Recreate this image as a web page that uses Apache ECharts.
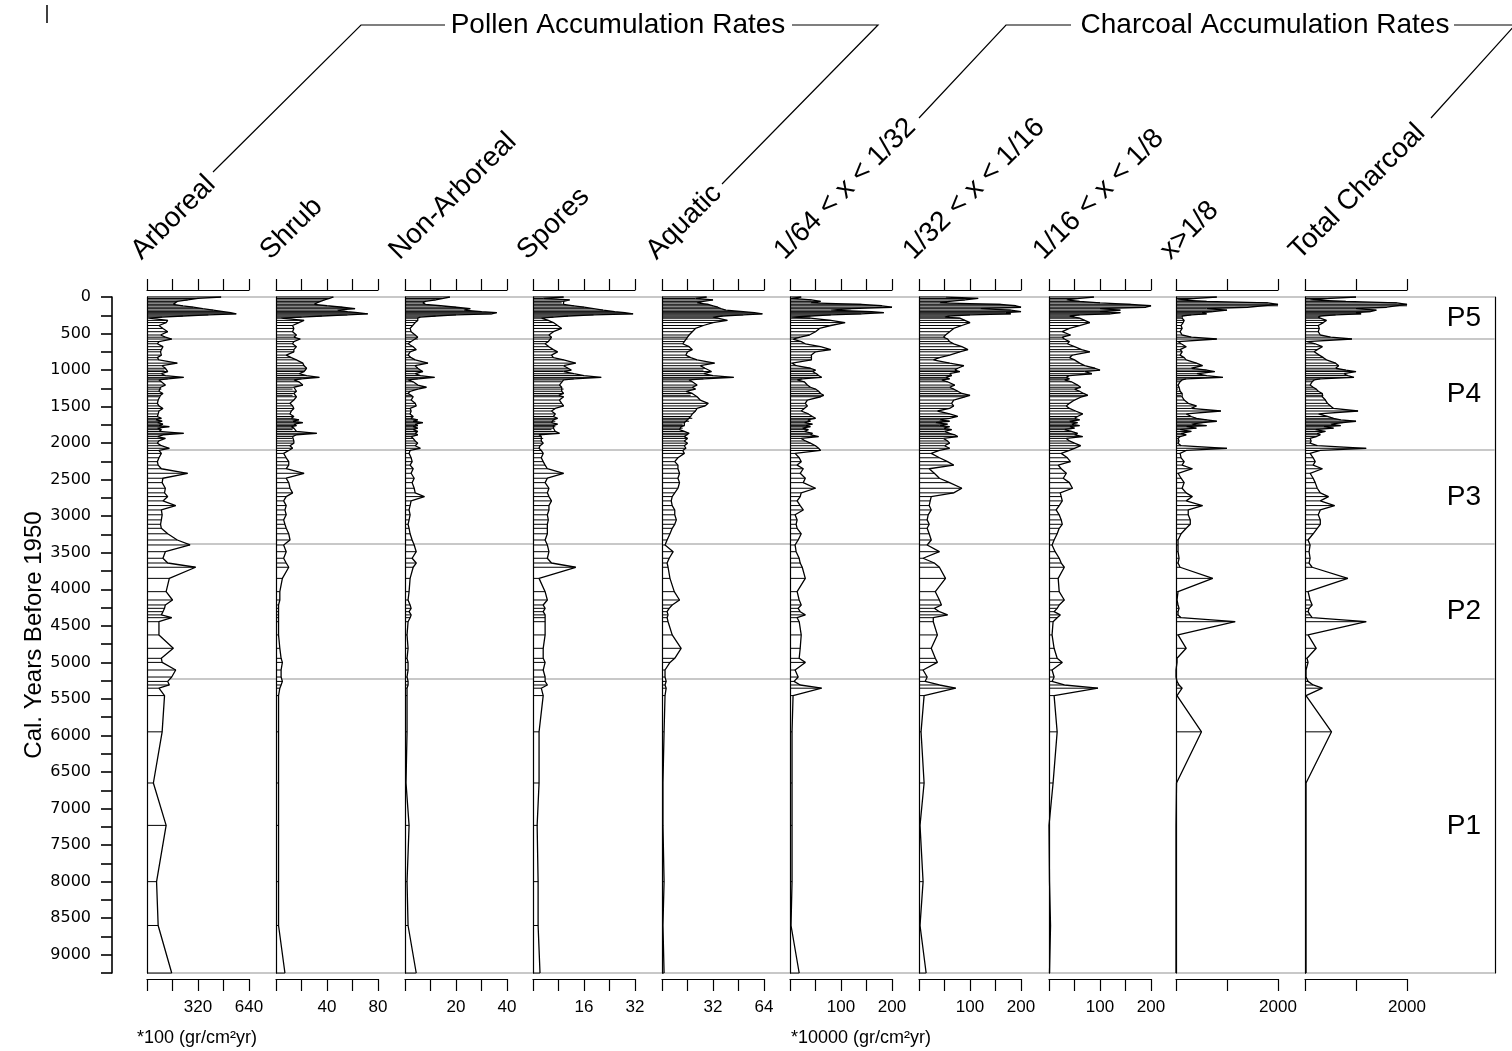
<!DOCTYPE html>
<html><head><meta charset="utf-8">
<script src="https://cdn.jsdelivr.net/npm/echarts@6/dist/echarts.min.js"></script>
<style>html,body{margin:0;padding:0;background:#fff}#c{width:1512px;height:1051px}</style>
</head><body><div id="c"></div><script>
// ---- data ----
const AGES = [
 0,20,40,60,80,100,120,140,160,180,200,215,230,245,260,275,290,
 320,350,390,430,475,520,550,575,
 610,640,680,720,750,795,830,860,905,940,975,
 1000,1020,1050,1075,1100,1120,1135,1160,1205,1235,1260,1290,1320,1345,1365,1410,1455,1490,
 1525,1560,1600,1635,1660,1680,1700,1720,1740,1760,1775,1795,1815,1840,1865,1885,1910,1935,1970,2000,2035,2070,2100,
 2140,2200,2253,2300,2350,2412,2480,2540,2617,2680,2731,2790,2854,2914,2980,3050,3110,3165,3240,3325,3393,
 3485,3575,3640,3698,3850,4032,4146,4214,4260,4306,4350,4388,4443,4624,4807,4944,5000,5104,5200,5260,5309,5353,
 5454,5950,6650,7230,8000,8600,9250];
const ARBOREAL = [
 465,320,255,190,180,165,225,290,350,415,480,525,560,385,225,95,12,
 130,120,75,100,130,85,115,155,
 75,65,100,90,85,90,65,75,190,95,115,
 110,130,90,115,230,130,75,90,115,85,90,75,100,85,75,70,65,75,
 100,75,70,65,90,55,95,65,100,75,140,65,90,75,230,100,65,115,75,65,90,140,75,
 90,75,65,70,90,255,100,95,115,110,130,100,180,90,95,90,85,90,130,190,270,
 115,100,130,305,140,120,160,115,110,100,90,155,75,75,165,90,95,180,155,130,140,75,
 110,95,40,120,60,70,155];
const SHRUB = [
 45,42,38,35,32,30,40,52,62,48,56,64,72,56,36,20,4,
 22,18,13,14,13,16,14,19,
 14,13,16,14,14,8,12,16,21,22,24,
 23,22,18,24,34,20,14,18,21,14,13,16,14,13,16,14,11,13,
 14,12,11,14,12,18,13,21,14,16,12,14,13,16,32,16,13,13,14,14,11,13,10,
 6,8,10,10,8,22,8,10,11,13,8,6,8,7,8,6,7,8,10,11,6,
 8,6,8,10,5,3,3,2,2,2,2,2,2,2,3,4,5,4,4,5,4,3,
 2,2,2,2,2,2,7];
const NON_ARBOREAL = [
 17.6,15,12,8,7,8,14,20,25.6,23,30,36,34,20,12,6,5,
 5,4,3,2,2.4,4,5,5,
 2.4,1.2,3.2,4.4,2,1.2,2.4,4,9,4,5,
 6,7,4,6,11.6,5,1.2,3.2,5,8.4,5,2,1.2,2.4,3.2,2.4,4,4.4,
 2,2.4,2,3.2,2.4,5,3.2,7,4,5,3,5,3.2,5,4,5,2.4,3.2,4,5,4,6,2,
 1.6,2.4,2.8,2,3.2,2.4,3.6,2.8,3.6,4,7.6,2.4,2,1.6,2,1.6,1.2,1.6,2,2.8,3.6,
 4.4,2.8,4.4,3.2,2,1.6,1.2,2,2.4,1.6,2.4,2,1.2,0.8,1.2,0.8,1.2,1.2,0.8,1.2,1.2,0.8,
 0.8,0.8,0.4,1.6,0.8,1.2,4.4];
const SPORES = [
 9.6,3.2,11.5,9.6,9,9.6,12.8,16,19,22,25.6,28.8,31.4,19,11,6.4,2.6,
 4.8,6.4,7.7,9,6.4,5,5.8,5.8,
 4.8,3.8,5,6.4,7.7,5.8,6.4,9.6,13.4,9.6,11,
 12,9.6,12.8,16,21.4,12.8,9.6,9,8.3,9,9.6,9,9.6,8,9.6,8.3,9,9.6,
 7,5.8,7,6.4,7.7,6.4,7,5.8,7.7,6.4,7,6.4,5.8,7,8.3,1.9,2.6,3.2,2.6,3.2,2.2,1.9,2.6,
 3.2,2.6,3.2,3.8,4.5,9.6,4.5,3.8,5,4.5,5,5.8,5,5,4.5,4.8,4.5,4.5,4.5,3.8,4.5,
 5,4.5,5.8,13.4,1.9,3.8,4.5,3.2,3.8,3.2,3.8,3.8,3.8,3.8,3.2,3.2,3.8,3.2,3.8,3.8,4.5,2.6,
 3.2,1.9,1.9,1.3,1.6,1.6,2.2];
const AQUATIC = [
 28,21,32,26,22,29,32,35,37,40,51,58,63,51,38,32,35,
 41,32,26,21,19,17,16,16,
 14,13,17,19,16,15,18,22,33,24,27,
 26,31,26,32,45,26,17,19,22,19,21,15,19,18,22,24,29,27,
 22,21,19,18,19,16,17,14,13,14,12,13,11,14,17,16,14,16,14,16,14,15,13,
 14,10,8,10,10,11,10,11,10,8,6.4,5.8,6.4,8,8,9,8,6.4,5,3.2,1.9,
 7,4.5,3.2,3.8,5,7.7,11,6.4,4.5,3.2,3.8,3.2,3.8,6.4,12,8,5,1.9,1.9,2.6,1.9,2.6,
 1.9,1.3,0.6,0.6,1.3,0.6,1.3];
const CHAR_64_32 = [
 22,4,42,60,40,140,180,200,120,80,160,184,140,80,40,4,40,
 80,108,80,58,50,38,20,6,
 22,30,60,80,50,42,42,42,4,12,40,
 50,44,52,56,62,24,14,28,34,40,50,56,60,66,60,34,30,34,
 28,22,36,44,50,34,40,28,44,30,40,24,36,28,44,40,56,22,30,40,50,56,60,
 10,18,22,14,26,20,30,26,50,22,20,14,20,26,10,14,12,14,22,16,10,
 12,18,20,24,30,14,18,22,16,20,30,14,18,22,20,18,30,10,16,8,20,62,
 6,4,4,4,4,2,18];
const CHAR_32_16 = [
 52,116,90,60,40,160,190,200,120,180,200,170,180,100,60,50,80,
 90,100,84,68,60,52,48,56,
 60,68,84,96,80,60,40,28,60,88,76,
 70,80,60,64,52,60,44,56,70,60,68,76,84,100,90,68,64,68,
 60,36,60,76,60,40,60,32,56,40,60,48,64,50,60,70,76,48,56,60,50,60,40,
 24,40,56,68,20,30,40,60,84,68,24,22,20,24,18,16,20,16,20,24,16,
 40,8,30,40,52,32,40,44,30,40,56,28,28,36,24,32,36,8,16,12,40,72,
 10,4,10,2,8,2,14];
const CHAR_16_8 = [
 88,60,34,60,100,160,200,190,100,140,100,140,120,60,40,50,60,
 70,80,60,40,26,42,26,30,
 40,36,50,64,80,46,40,50,60,70,90,
 100,70,84,40,34,40,30,44,56,62,50,60,68,76,64,50,40,34,
 40,52,66,56,50,60,40,56,44,60,40,50,30,44,56,50,66,34,40,50,62,50,40,
 24,36,42,18,24,34,28,40,46,22,24,26,20,14,20,24,26,20,16,10,6,
 12,20,24,30,18,20,30,20,16,10,22,16,8,6,10,16,26,6,10,6,30,96,
 10,16,8,0,1,3,1];
const CHAR_GT_8 = [
 800,400,40,600,1800,2000,2000,1400,600,1000,720,500,600,300,120,100,120,
 160,140,100,120,80,120,300,800,
 40,100,200,80,120,80,160,200,400,520,300,
 600,760,400,600,920,200,120,80,40,60,40,80,120,100,120,160,240,400,
 300,880,200,300,400,600,800,520,300,600,200,400,80,300,100,200,80,40,60,40,100,1000,200,
 80,100,160,120,320,40,100,160,120,200,320,200,520,240,240,280,280,200,100,40,40,
 40,60,40,80,720,40,20,40,60,40,40,100,1160,40,200,20,20,0,0,20,60,120,
 20,500,10,0,0,0,0];
const CHAR_TOTAL = [
 1000,500,100,800,1800,2000,2000,1600,1000,1400,1280,1000,1100,600,300,260,300,
 420,360,260,280,260,300,500,920,
 40,200,340,240,180,280,360,420,600,660,600,
 800,1000,760,840,960,300,180,140,100,160,220,260,340,360,340,400,440,500,
 560,1040,260,440,560,700,1000,740,500,700,360,560,200,400,240,300,220,100,120,100,240,1200,300,
 100,160,200,160,340,100,160,200,240,300,460,300,580,300,260,300,300,240,160,60,100,
 80,100,80,140,840,60,100,140,80,60,100,140,1200,60,220,40,60,20,20,60,160,340,
 20,520,20,20,20,20,20];

const PANEL_NAMES = ['Arboreal','Shrub','Non-Arboreal','Spores','Aquatic',
 '1/64 < x < 1/32','1/32 < x < 1/16','1/16 < x < 1/8','x>1/8','Total Charcoal'];
const PANEL_DATA = [ARBOREAL,SHRUB,NON_ARBOREAL,SPORES,AQUATIC,CHAR_64_32,CHAR_32_16,CHAR_16_8,CHAR_GT_8,CHAR_TOTAL];
const AXIS_MAX = [640,80,40,32,64,200,200,200,2000,2000];
const AXIS_STEP = [160,20,10,8,16,50,50,50,1000,1000];
const TICK_LABELS = [[320,640],[40,80],[20,40],[16,32],[32,64],[100,200],[100,200],[100,200],[2000],[2000]];
const Y_LABELS = [0,500,1000,1500,2000,2500,3000,3500,4000,4500,5000,5500,6000,6500,7000,7500,8000,8500,9000];
const ZONE_BOUNDS = [0,575,2093,3379,5226,9250];
const ZONE_NAMES = ['P5','P4','P3','P2','P1'];
const Y_MAX = 9250;
const GROUP_TITLES = ['Pollen Accumulation Rates','Charcoal Accumulation Rates'];
const UNIT_LABELS = ['*100 (gr/cm²yr)','*10000 (gr/cm²yr)'];

// ---- layout ----
const FONT = '"Liberation Sans", Arial, sans-serif';
const PANEL_LEFT = [147,276,405,533,662,790,919,1049,1176,1305];
const PANEL_W = 102, TOP = 297, HEIGHT = 676;

const grid=[], xAxis=[], yAxis=[], series=[];
const black = {color:'#000', width:1.2};
const blackThick = {color:'#000', width:1.6};
PANEL_DATA.forEach((vals,p)=>{
  grid.push({left:PANEL_LEFT[p], top:TOP, width:PANEL_W, height:HEIGHT});
  const common = {gridIndex:p, type:'value', min:0, max:AXIS_MAX[p], interval:AXIS_STEP[p], splitLine:{show:false}};
  xAxis.push(Object.assign({}, common, {position:'top', offset:7,
    axisLine:{onZero:false, lineStyle:black}, axisTick:{length:11, lineStyle:black}, axisLabel:{show:false}}));
  xAxis.push(Object.assign({}, common, {position:'bottom', offset:6,
    axisLine:{onZero:false, lineStyle:black}, axisTick:{length:12, lineStyle:black},
    axisLabel:{margin:20, color:'#000', fontSize:17, fontFamily:FONT,
      formatter:v=>TICK_LABELS[p].includes(v)?String(v):''}}));
  yAxis.push({gridIndex:p, type:'value', inverse:true, min:0, max:Y_MAX, z:5,
    axisLine:{show:true, onZero:false, lineStyle:black}, axisTick:{show:false}, axisLabel:{show:false}, splitLine:{show:false}});
  const rows = AGES.map((a,i)=>[vals[i], a]);
  // white-filled profile polygon
  series.push({type:'custom', xAxisIndex:2*p, yAxisIndex:p, z:2, silent:true, data:[[0,0]],
    renderItem:(params,api)=>{
      const pts=[api.coord([0,AGES[0]])];
      for(let i=0;i<AGES.length;i++) pts.push(api.coord([vals[i],AGES[i]]));
      pts.push(api.coord([0,AGES[AGES.length-1]]));
      return {type:'polygon', shape:{points:pts}, style:{fill:'#fff', stroke:null}};
    }});
  // horizontal sample lines
  series.push({type:'custom', xAxisIndex:2*p, yAxisIndex:p, z:3, silent:true, data:rows,
    renderItem:(params,api)=>{
      const v=api.value(0), a=api.value(1);
      const p0=api.coord([0,a]), p1=api.coord([v,a]);
      return {type:'line', shape:{x1:p0[0],y1:p0[1],x2:p1[0],y2:p1[1]}, style:{stroke:'#000', lineWidth:1}};
    }});
  // profile curve
  series.push({type:'line', xAxisIndex:2*p, yAxisIndex:p, z:4, silent:true, data:rows,
    symbol:'none', lineStyle:{color:'#000', width:1.3}});
});

// zone / main depth axis grid
const ZG = PANEL_DATA.length;
grid.push({left:147, top:TOP, width:1348, height:HEIGHT});
xAxis.push({gridIndex:ZG, type:'value', min:0, max:1, show:false});
yAxis.push({gridIndex:ZG, type:'value', inverse:true, min:0, max:Y_MAX, interval:250, position:'left', offset:35,
  axisLine:{show:true, onZero:false, lineStyle:blackThick}, axisTick:{show:true, length:11, lineStyle:blackThick},
  axisLabel:{margin:21, color:'#000', fontSize:16, fontFamily:'"DejaVu Sans", Verdana, sans-serif',
    formatter:v=>Y_LABELS.includes(v)?String(v):''},
  splitLine:{show:false},
  name:'Cal. Years Before 1950', nameLocation:'middle', nameGap:66, nameMoveOverlap:false,
  nameTextStyle:{fontFamily:FONT, fontSize:24, color:'#000'}});
yAxis.push({gridIndex:ZG, type:'value', inverse:true, min:0, max:Y_MAX, position:'right',
  axisLine:{show:true, onZero:false, lineStyle:black}, axisTick:{show:false}, axisLabel:{show:false}, splitLine:{show:false}});
series.push({type:'line', xAxisIndex:2*ZG, yAxisIndex:ZG, data:[], z:1, silent:true,
  markLine:{z:1, silent:true, symbol:['none','none'], label:{show:false},
    lineStyle:{color:'#c8c8c8', width:2, type:'solid'},
    data:ZONE_BOUNDS.map(b=>({yAxis:b}))},
  markArea:{z:1, silent:true, itemStyle:{color:'rgba(0,0,0,0)'},
    label:{show:true, position:'insideRight', distance:14, color:'#000', fontSize:28, fontFamily:FONT},
    data:ZONE_NAMES.map((n,i)=>[{name:n, yAxis:ZONE_BOUNDS[i]},{yAxis:ZONE_BOUNDS[i+1]}])}
});

// ---- headers ----
const graphic = [];
PANEL_NAMES.forEach((name,p)=>{
  graphic.push({type:'text', x:PANEL_LEFT[p]-1, y:265, rotation:Math.PI/4,
    style:{text:name, font:'28px '+FONT, fill:'#000', align:'left', verticalAlign:'bottom', textAlign:'left', textVerticalAlign:'bottom'}});
});
graphic.push({type:'text', x:618, y:25, style:{text:GROUP_TITLES[0], font:'28px '+FONT, fill:'#000', align:'center', verticalAlign:'middle', textAlign:'center', textVerticalAlign:'middle'}});
graphic.push({type:'text', x:1265, y:25, style:{text:GROUP_TITLES[1], font:'28px '+FONT, fill:'#000', align:'center', verticalAlign:'middle', textAlign:'center', textVerticalAlign:'middle'}});
const leaders = [
  [[213,172],[361,25],[445,25]],
  [[792,25],[878,25],[722,184]],
  [[919,118],[1006,25],[1071,25]],
  [[1454,25],[1515,25],[1431,118]]
];
leaders.forEach(pts=>graphic.push({type:'polyline', shape:{points:pts}, style:{stroke:'#000', lineWidth:1.2, fill:null}}));
graphic.push({type:'line', shape:{x1:47,y1:5,x2:47,y2:23}, style:{stroke:'#000', lineWidth:1.5}});
graphic.push({type:'text', x:137, y:1038, style:{text:UNIT_LABELS[0], font:'18px '+FONT, fill:'#000', align:'left', verticalAlign:'middle', textAlign:'left', textVerticalAlign:'middle'}});
graphic.push({type:'text', x:791, y:1038, style:{text:UNIT_LABELS[1], font:'18px '+FONT, fill:'#000', align:'left', verticalAlign:'middle', textAlign:'left', textVerticalAlign:'middle'}});

const chart = echarts.init(document.getElementById('c'));
chart.setOption({animation:false, backgroundColor:'#fff', grid, xAxis, yAxis, series, graphic});
</script></body></html>
